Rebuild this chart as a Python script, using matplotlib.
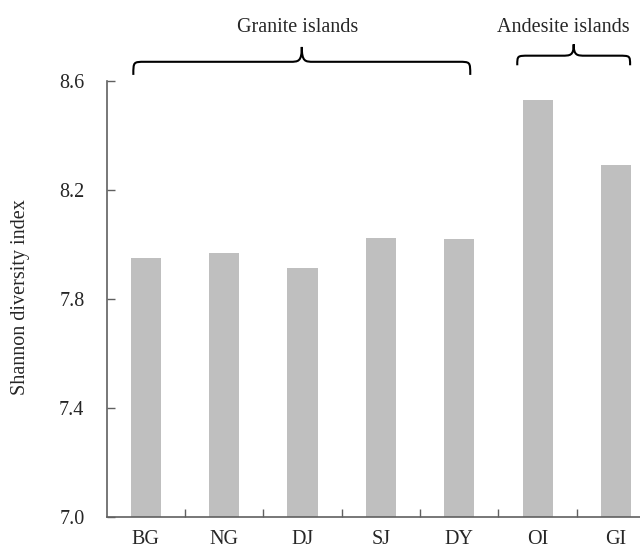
import numpy as np
import matplotlib.pyplot as plt
from matplotlib.path import Path
from matplotlib.patches import PathPatch
import matplotlib.transforms as mtransforms

plt.rcParams['font.family'] = ['Liberation Serif', 'DejaVu Serif']
plt.rcParams['xtick.direction'] = 'in'
plt.rcParams['ytick.direction'] = 'in'

islands = ['BG', 'NG', 'DJ', 'SJ', 'DY', 'OI', 'GI']
shannon = [7.951, 7.970, 7.915, 8.025, 8.020, 8.527, 8.291]
groups = ['Granite islands', 'Andesite islands']
yticks = [7.0, 7.4, 7.8, 8.2, 8.6]

axis_col = '#606060'
text_col = '#262626'
fs = 14.5


def brace(ax, x0, x1, y_tip, y_line, y_cusp, r, label, x_text, y_text):
    # curly brace spanning x0..x1 (data x, axes-fraction y)
    xm = (x0 + x1) / 2
    verts = [
        (x0, y_tip), (x0, y_line), (x0, y_line), (x0 + r, y_line),
        (xm - r, y_line),
        (xm - r * 0.3, y_line), (xm, y_line), (xm, y_cusp),
        (xm, y_line), (xm + r * 0.3, y_line), (xm + r, y_line),
        (x1 - r, y_line),
        (x1, y_line), (x1, y_line), (x1, y_tip),
    ]
    codes = [Path.MOVETO, Path.CURVE4, Path.CURVE4, Path.CURVE4,
             Path.LINETO,
             Path.CURVE4, Path.CURVE4, Path.CURVE4,
             Path.CURVE4, Path.CURVE4, Path.CURVE4,
             Path.LINETO,
             Path.CURVE4, Path.CURVE4, Path.CURVE4]
    trans = mtransforms.blended_transform_factory(ax.transData, ax.transAxes)
    ax.add_patch(PathPatch(Path(verts, codes), fc='none', ec='black', lw=1.5,
                           transform=trans, clip_on=False))
    ax.text(x_text, y_text, label, transform=trans, ha='center', va='center',
            fontsize=fs, color=text_col)


fig = plt.figure(figsize=(6.4, 5.5), dpi=100)
ax = fig.add_axes([0.1667, 0.0595, 0.857, 0.794])

x = np.arange(len(islands))
ax.bar(x, [v - 7.0 for v in shannon], bottom=7.0, width=0.385, color='#bfbfbf')

ax.set_xlim(-0.5, 6.5)
ax.set_ylim(7.0, 8.6)
ax.set_yticks(yticks)
ax.set_yticklabels(['%.1f' % t for t in yticks])
ax.set_xticks(x)
ax.set_xticklabels(islands)
ax.set_xticks(np.arange(0.5, 6.5, 1.0), minor=True)

for s in ['top', 'right']:
    ax.spines[s].set_visible(False)
for s in ['left', 'bottom']:
    ax.spines[s].set_color(axis_col)
    ax.spines[s].set_linewidth(1.2)

ax.tick_params(axis='y', length=6, width=1.0, color=axis_col,
               labelsize=fs, labelcolor=text_col, pad=16)
ax.tick_params(axis='x', which='major', length=0, labelsize=fs,
               labelcolor=text_col, pad=9)
ax.tick_params(axis='x', which='minor', length=6, width=1.0, color=axis_col)

ax.set_ylabel('Shannon diversity index', fontsize=fs, color=text_col)
ax.yaxis.set_label_coords(-0.14, 0.505)

brace(ax, -0.16, 4.14, 1.013, 1.043, 1.077, 0.15, groups[0], 1.94, 1.122)
brace(ax, 4.74, 6.18, 1.035, 1.057, 1.083, 0.15, groups[1], 5.33, 1.122)

fig.savefig('out.png', dpi=100)
